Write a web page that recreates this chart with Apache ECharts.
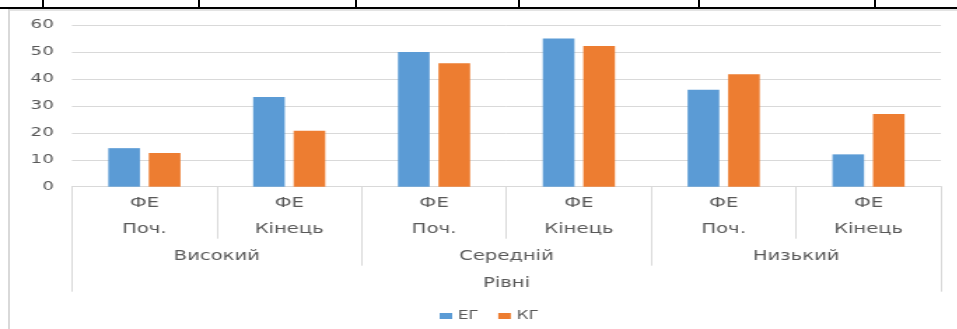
<!DOCTYPE html>
<html>
<head>
<meta charset="utf-8">
<script src="https://cdn.jsdelivr.net/npm/echarts@6/dist/echarts.min.js"></script>
<style>
  html, body { margin: 0; padding: 0; background: #fff; }
  body { width: 957px; height: 329px; position: relative; overflow: hidden; }
  /* chart is drawn narrow and stretched sideways, like the source picture */
  #chart { position: absolute; left: 0; top: 0; width: 684px; height: 329px;
           transform: scaleX(1.4); transform-origin: 0 0; }
  .ln { position: absolute; }
</style>
</head>
<body>
<!-- table borders around the chart -->
<div class="ln" style="left:0;top:7px;width:957px;height:2px;background:#000"></div>
<div class="ln" style="left:42px;top:0;width:2px;height:8px;background:#000"></div>
<div class="ln" style="left:198px;top:0;width:2px;height:8px;background:#000"></div>
<div class="ln" style="left:355px;top:0;width:2px;height:8px;background:#000"></div>
<div class="ln" style="left:518px;top:0;width:2px;height:8px;background:#000"></div>
<div class="ln" style="left:698px;top:0;width:2px;height:8px;background:#000"></div>
<div class="ln" style="left:874px;top:0;width:2px;height:8px;background:#000"></div>
<div class="ln" style="left:8px;top:9px;width:949px;height:2px;background:#e3e3e3"></div>
<div class="ln" style="left:8px;top:9px;width:2px;height:320px;background:#d9d9d9"></div>
<div id="chart"></div>
<script>
var groups = ['Високий', 'Середній', 'Низький']
var stages = ['Поч.', 'Кінець']
var measure = 'ФЕ'
var axisTitle = 'Рівні'
var seriesNames = ['ЕГ', 'КГ']
var egValues = [14.3, 33.3, 50, 55, 36, 12]
var kgValues = [12.5, 20.8, 45.8, 52.2, 41.7, 27]
var yTicks = [0, 10, 20, 30, 40, 50, 60]

var categories = []
groups.forEach(function (g) {
  stages.forEach(function (s) { categories.push(g + ' ' + s) })
})

var textColor = '#595959'
var lineColor = '#d9d9d9'
var font = 'DejaVu Sans'

var chart = echarts.init(document.getElementById('chart'))
chart.setOption({
  animation: false,
  textStyle: { fontFamily: font },
  grid: { left: 51.4, right: 11.9, top: 25, bottom: 142.3, containLabel: false },
  legend: {
    data: seriesNames,
    left: 309,
    top: 305,
    itemWidth: 9,
    itemHeight: 6,
    itemGap: 14,
    icon: 'rect',
    textStyle: { color: textColor, fontSize: 12, fontFamily: font, padding: [0, 0, 0, -1] }
  },
  xAxis: [{
    type: 'category',
    data: categories,
    axisLine: { show: true, lineStyle: { color: lineColor } },
    axisTick: { show: true, alignWithLabel: false, length: 52, lineStyle: { color: lineColor } },
    axisLabel: {
      interval: 0,
      margin: 4,
      color: textColor,
      fontSize: 14,
      lineHeight: 26,
      formatter: function (v, i) { return measure + '\n' + stages[i % stages.length] }
    }
  }, {
    type: 'category',
    data: groups,
    position: 'bottom',
    axisLine: { show: false },
    axisTick: { show: true, alignWithLabel: false, length: 79, lineStyle: { color: lineColor } },
    axisLabel: { interval: 0, margin: 62, color: textColor, fontSize: 14, lineHeight: 16 }
  }, {
    type: 'category',
    data: [axisTitle],
    position: 'bottom',
    axisLine: { show: false },
    axisTick: { show: true, alignWithLabel: false, length: 105, lineStyle: { color: lineColor } },
    axisLabel: { interval: 0, margin: 89, color: textColor, fontSize: 14, lineHeight: 16 }
  }],
  yAxis: {
    type: 'value',
    min: yTicks[0],
    max: yTicks[yTicks.length - 1],
    interval: 10,
    axisLine: { show: false },
    axisTick: { show: false },
    splitLine: { lineStyle: { color: lineColor } },
    axisLabel: { margin: 13, color: textColor, fontSize: 13 }
  },
  series: [{
    name: seriesNames[0],
    type: 'bar',
    xAxisIndex: 0,
    data: egValues,
    barWidth: 22.6,
    barGap: '28%',
    itemStyle: { color: '#5b9bd5' }
  }, {
    name: seriesNames[1],
    type: 'bar',
    xAxisIndex: 0,
    data: kgValues,
    barWidth: 22.6,
    barGap: '28%',
    itemStyle: { color: '#ed7d31' }
  }]
})
</script>
</body>
</html>
